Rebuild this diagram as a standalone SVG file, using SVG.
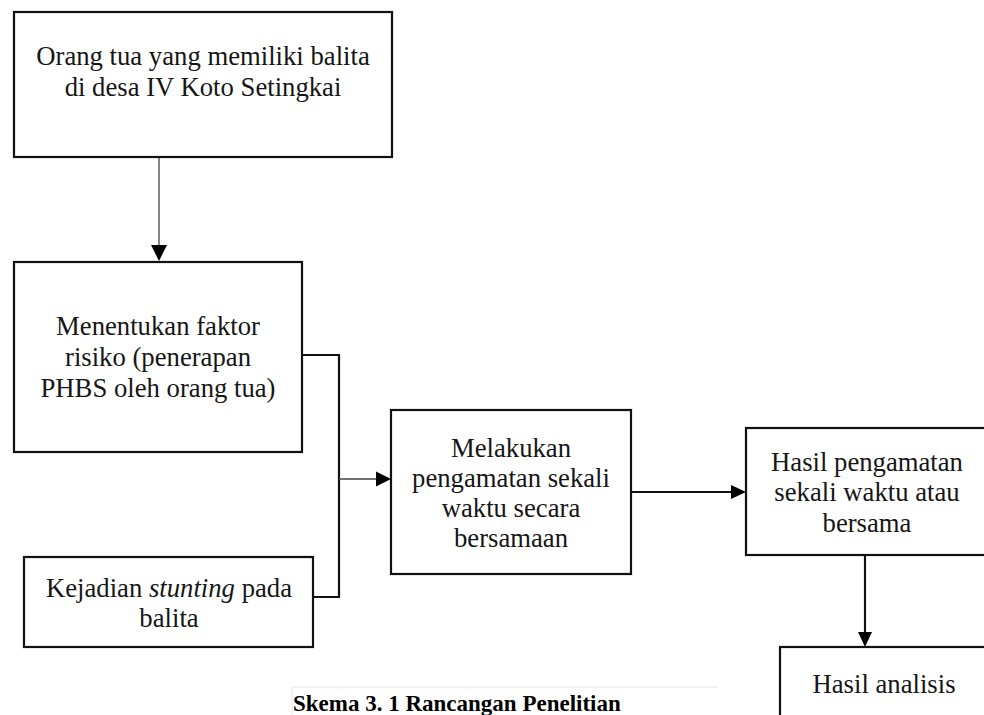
<svg xmlns="http://www.w3.org/2000/svg" width="984" height="715" viewBox="0 0 984 715">
<style>
.box{fill:#fff;stroke:#111;stroke-width:2.2}
.t{font-family:"Liberation Serif","Times New Roman",serif;font-size:26.7px;fill:#161616;text-anchor:middle}
.thin{stroke:#444;stroke-width:1.3;fill:none}
.thick{stroke:#111;stroke-width:2.2;fill:none}
.ah{fill:#000}
.cap{font-family:"Liberation Serif","Times New Roman",serif;font-size:23px;font-weight:bold;fill:#000}
</style>
<rect width="984" height="715" fill="#fff"/>
<g id="connectors">
<line class="thin" x1="159" y1="157" x2="159" y2="247"/>
<polygon class="ah" points="151,245 167,245 159,261"/>
<path class="thick" d="M302,355 H339 V597 H313"/>
<line class="thin" x1="339" y1="479" x2="377" y2="479"/>
<polygon class="ah" points="376,471.5 376,486.5 391,479"/>
<line class="thick" x1="631" y1="492" x2="732" y2="492"/>
<polygon class="ah" points="731,485 731,499 746,492"/>
<line class="thick" x1="865" y1="555" x2="865" y2="633"/>
<polygon class="ah" points="858,632 872,632 865,647"/>
</g>
<g id="node1">
<rect class="box" x="14" y="12" width="378" height="145"/>
<text class="t" x="203" y="65">Orang tua yang memiliki balita</text>
<text class="t" x="203" y="96">di desa IV Koto Setingkai</text>
</g>
<g id="node2">
<rect class="box" x="14" y="262" width="288" height="190"/>
<text class="t" x="158" y="335">Menentukan faktor</text>
<text class="t" x="158" y="366">risiko (penerapan</text>
<text class="t" x="158" y="397">PHBS oleh orang tua)</text>
</g>
<g id="node3">
<rect class="box" x="24" y="557" width="289" height="90"/>
<text class="t" x="169" y="597">Kejadian <tspan font-style="italic">stunting</tspan> pada</text>
<text class="t" x="169" y="627">balita</text>
</g>
<g id="node4">
<rect class="box" x="391" y="410" width="240" height="164"/>
<text class="t" x="511" y="457">Melakukan</text>
<text class="t" x="511" y="487">pengamatan sekali</text>
<text class="t" x="511" y="517">waktu secara</text>
<text class="t" x="511" y="547">bersamaan</text>
</g>
<g id="node5">
<rect class="box" x="746" y="428" width="260" height="127"/>
<text class="t" x="867" y="471">Hasil pengamatan</text>
<text class="t" x="867" y="501">sekali waktu atau</text>
<text class="t" x="867" y="532">bersama</text>
</g>
<g id="node6">
<rect class="box" x="780" y="647" width="226" height="100"/>
<text class="t" x="884" y="693">Hasil analisis</text>
</g>
<g id="caption">
<path d="M292,716 V687 H718" fill="none" stroke="#e4e4e4" stroke-width="1"/>
<text class="cap" x="293" y="711">Skema 3. 1 Rancangan Penelitian</text>
</g>
</svg>
